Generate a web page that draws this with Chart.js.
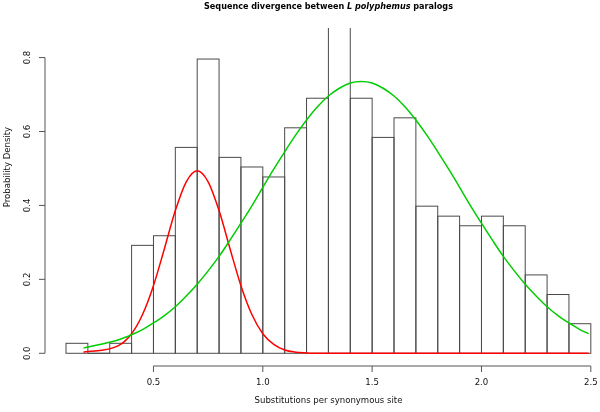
<!DOCTYPE html>
<html>
<head>
<meta charset="utf-8">
<script src="https://cdn.jsdelivr.net/npm/chart.js@4"></script>
<style>
    body { margin: 0; background: #fff; }
    canvas { display: block; }
</style>
</head>
<body>
<canvas id="myChart" width="600" height="412"></canvas>
<script>
// histogram bins (mid points) and their densities
const binMids = [0.15, 0.25, 0.35, 0.45, 0.55, 0.65, 0.75, 0.85, 0.95, 1.05, 1.15, 1.25,
    1.35, 1.45, 1.55, 1.65, 1.75, 1.85, 1.95, 2.05, 2.15, 2.25, 2.35, 2.45];
const densities = [0.027, 0, 0.027, 0.292, 0.318, 0.557, 0.796, 0.530, 0.504, 0.477, 0.610, 0.690,
    0.981, 0.690, 0.584, 0.637, 0.398, 0.371, 0.345, 0.371, 0.345, 0.212, 0.159, 0.080];

// fitted curves
const curveX = [0.18, 0.338, 0.40, 0.45, 0.50, 0.55, 0.60, 0.65, 0.70, 0.75, 0.80, 0.85, 0.90, 0.95,
    1.00, 1.05, 1.10, 1.15, 1.20, 1.25, 1.30, 1.35, 1.40, 1.45, 1.50, 1.55, 1.60, 1.65, 1.70,
    1.75, 1.80, 1.85, 1.90, 1.95, 2.00, 2.05, 2.10, 2.15, 2.20, 2.25, 2.30, 2.35, 2.40, 2.45, 2.49];
const redCurve = [0.003, 0.020, 0.053, 0.105, 0.183, 0.283, 0.386, 0.464, 0.494, 0.464, 0.386, 0.283, 0.183, 0.105,
    0.053, 0.024, 0.009, 0.003, 0.001, 0, 0, 0, 0, 0, 0, 0, 0, 0, 0,
    0, 0, 0, 0, 0, 0, 0, 0, 0, 0, 0, 0, 0, 0, 0, 0];
const greenCurve = [0.014, 0.036, 0.050, 0.064, 0.082, 0.102, 0.126, 0.155, 0.187, 0.223, 0.262, 0.306, 0.352, 0.399,
    0.449, 0.498, 0.545, 0.590, 0.631, 0.667, 0.696, 0.717, 0.731, 0.735, 0.731, 0.717, 0.696, 0.667, 0.631,
    0.590, 0.545, 0.498, 0.449, 0.399, 0.352, 0.306, 0.262, 0.223, 0.187, 0.155, 0.126, 0.102, 0.082, 0.064, 0.053];

const xTicks = [0.5, 1.0, 1.5, 2.0, 2.5];
const xTickLabels = ["0.5", "1.0", "1.5", "2.0", "2.5"];
const yTicks = [0, 0.2, 0.4, 0.6, 0.8];
const yTickLabels = ["0.0", "0.2", "0.4", "0.6", "0.8"];

const titleParts = [
    {text: "Sequence divergence between ", italic: false},
    {text: "L polyphemus", italic: true},
    {text: " paralogs", italic: false}
];
const xTitle = "Substitutions per synonymous site";
const yTitle = "Probability Density";

const FONT = "'DejaVu Sans Condensed', 'DejaVu Sans', sans-serif";

function toPoints(xs, ys) {
    let pts = [];
    for (let i = 0; i < xs.length; i++) {
        pts.push({x: xs[i], y: ys[i]});
    }
    return pts;
}

function setFont(ctx, font) {
    ctx.font = font;
    if ('fontStretch' in ctx)
        ctx.fontStretch = "condensed";
}

// R style hist outlines: one stroke per bar so shared edges stay 1px
const barOutline = {
    id: 'barOutline',
    afterDatasetDraw(chart, args) {
        if (args.index !== 0)
            return;
        const ctx = chart.ctx;
        const area = chart.chartArea;
        ctx.save();
        ctx.beginPath();
        ctx.rect(area.left, area.top, area.right - area.left, area.bottom - area.top);
        ctx.clip();
        ctx.strokeStyle = "#4a4a4a";
        ctx.lineWidth = 1;
        args.meta.data.forEach(function (bar) {
            const p = bar.getProps(['x', 'y', 'base', 'width'], true);
            ctx.strokeRect(p.x - p.width / 2, p.y, p.width, p.base - p.y);
        });
        ctx.restore();
    }
};

// axes, tick labels and titles, drawn the way R does it
const rAxes = {
    id: 'rAxes',
    afterDraw(chart) {
        const ctx = chart.ctx;
        const xs = chart.scales.x;
        const ys = chart.scales.y;
        const area = chart.chartArea;
        const midX = (area.left + 612) / 2;  // R plot region runs past the right edge
        ctx.save();
        ctx.strokeStyle = "#555";
        ctx.fillStyle = "#111";
        ctx.lineWidth = 1;
        setFont(ctx, "9.5px " + FONT);

        // x axis
        const axY = area.bottom;
        ctx.beginPath();
        ctx.moveTo(xs.getPixelForValue(xTicks[0]), axY);
        ctx.lineTo(xs.getPixelForValue(xTicks[xTicks.length - 1]), axY);
        for (let i = 0; i < xTicks.length; i++) {
            const px = xs.getPixelForValue(xTicks[i]);
            ctx.moveTo(px, axY);
            ctx.lineTo(px, axY + 6);
        }
        ctx.stroke();
        ctx.textAlign = "center";
        ctx.textBaseline = "middle";
        for (let i = 0; i < xTicks.length; i++) {
            ctx.fillText(xTickLabels[i], xs.getPixelForValue(xTicks[i]), axY + 17);
        }

        // y axis
        const axX = area.left;
        ctx.beginPath();
        ctx.moveTo(axX, ys.getPixelForValue(yTicks[0]));
        ctx.lineTo(axX, ys.getPixelForValue(yTicks[yTicks.length - 1]));
        for (let i = 0; i < yTicks.length; i++) {
            const py = ys.getPixelForValue(yTicks[i]);
            ctx.moveTo(axX, py);
            ctx.lineTo(axX - 6, py);
        }
        ctx.stroke();
        for (let i = 0; i < yTicks.length; i++) {
            ctx.save();
            ctx.translate(axX - 17, ys.getPixelForValue(yTicks[i]));
            ctx.rotate(-Math.PI / 2);
            ctx.fillText(yTickLabels[i], 0, 0);
            ctx.restore();
        }

        // axis titles
        ctx.fillText(xTitle, midX, axY + 35);
        ctx.save();
        ctx.translate(8, 167);
        ctx.rotate(-Math.PI / 2);
        ctx.fillText(yTitle, 0, 0);
        ctx.restore();

        // main title, part of it in italics
        let total = 0;
        for (let i = 0; i < titleParts.length; i++) {
            setFont(ctx, (titleParts[i].italic ? "italic " : "") + "bold 9px " + FONT);
            total += ctx.measureText(titleParts[i].text).width;
        }
        let tx = midX - total / 2;
        ctx.textAlign = "left";
        ctx.fillStyle = "#000";
        for (let i = 0; i < titleParts.length; i++) {
            setFont(ctx, (titleParts[i].italic ? "italic " : "") + "bold 9px " + FONT);
            ctx.fillText(titleParts[i].text, tx, 7);
            tx += ctx.measureText(titleParts[i].text).width;
        }
        ctx.restore();
    }
};

const graph = new Chart("myChart", {
    type: "bar",
    data: {
        datasets: [{
                type: "bar",
                data: toPoints(binMids, densities),
                backgroundColor: "rgba(0,0,0,0)",
                borderWidth: 0,
                barPercentage: 1.0,
                categoryPercentage: 1.0,
                clip: 0,
                order: 2
            }, {
                type: "line",
                data: toPoints(curveX, redCurve),
                borderColor: "#ff0000",
                borderWidth: 1.5,
                pointRadius: 0,
                cubicInterpolationMode: "monotone",
                fill: false,
                order: 1
            }, {
                type: "line",
                data: toPoints(curveX, greenCurve),
                borderColor: "#00cd00",
                borderWidth: 1.5,
                pointRadius: 0,
                cubicInterpolationMode: "monotone",
                fill: false,
                order: 0
            }]
    },
    options: {
        responsive: false,
        devicePixelRatio: 1,
        animation: false,
        layout: {
            padding: {left: 45, right: 0, top: 28, bottom: 46}
        },
        scales: {
            x: {
                type: "linear",
                display: false,
                offset: false,
                min: 0.004,
                max: 2.542
            },
            y: {
                display: false,
                min: -0.0344,
                max: 0.880
            }
        },
        plugins: {
            legend: {display: false},
            tooltip: {enabled: false}
        }
    },
    plugins: [barOutline, rAxes]
});
</script>
</body>
</html>
